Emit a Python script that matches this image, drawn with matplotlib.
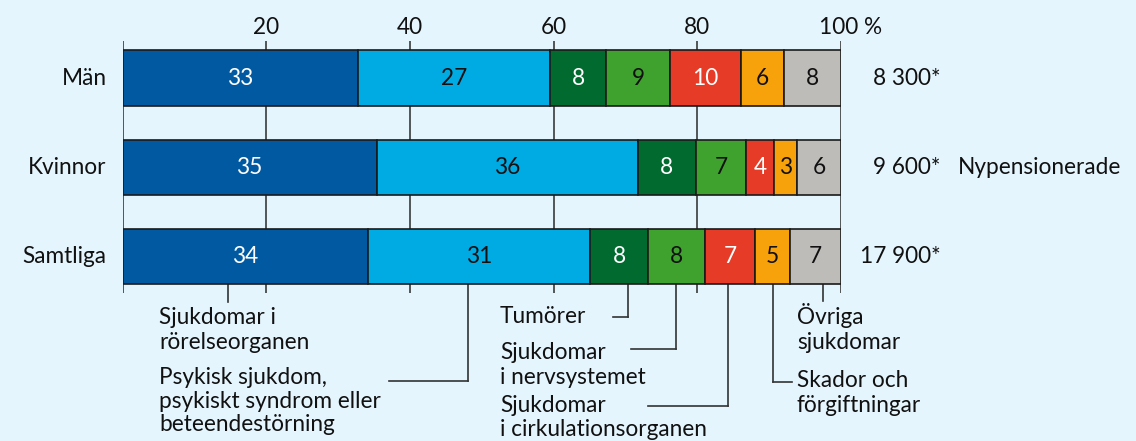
import matplotlib
matplotlib.use("Agg")
import matplotlib.pyplot as plt
import matplotlib.transforms as mtransforms

plt.rcParams['font.family'] = ['Lato', 'DejaVu Sans']

# ---- data ----
groups = ["Män", "Kvinnor", "Samtliga"]
totals = ["8 300*", "9 600*", "17 900*"]
categories = [
    "Sjukdomar i\nrörelseorganen",
    "Psykisk sjukdom,\npsykiskt syndrom eller\nbeteendestörning",
    "Tumörer",
    "Sjukdomar\ni nervsystemet",
    "Sjukdomar\ni cirkulationsorganen",
    "Skador och\nförgiftningar",
    "Övriga\nsjukdomar",
]
man = [32.8, 26.7, 7.8, 8.9, 9.9, 6.0, 7.9]
kvinnor = [35.4, 36.3, 8.1, 7.0, 3.9, 3.2, 6.1]
samtliga = [34.2, 30.9, 8.0, 8.0, 6.9, 4.9, 7.1]
man_labels = [33, 27, 8, 9, 10, 6, 8]
kvinnor_labels = [35, 36, 8, 7, 4, 3, 6]
samtliga_labels = [34, 31, 8, 8, 7, 5, 7]
tick_values = [20, 40, 60, 80, 100]
tick_labels = ["20", "40", "60", "80", "100 %"]
side_note = "Nypensionerade"

colors = ["#0059a1", "#00abe3", "#006a2f", "#40a22e", "#e53b27", "#f8a20b", "#bebcb9"]
text_colors = ["white", "#111111", "white", "#111111", "white", "#111111", "#111111"]
bg = "#e5f5fd"

W, H = 1136, 441
fig = plt.figure(figsize=(W / 100, H / 100), dpi=100, facecolor=bg)
x0px, x1px = 122.5, 841.0
y_top_px, y_bot_px = 41.0, 293.0
ax = fig.add_axes([x0px / W, 1 - y_bot_px / H, (x1px - x0px) / W, (y_bot_px - y_top_px) / H])
ax.set_facecolor(bg)
ax.set_xlim(0, 100)
row_c0, row_sp = 78.0, 89.25
def py(p):
    return (p - row_c0) / row_sp
ax.set_ylim(py(y_bot_px), py(y_top_px))
for s in ax.spines.values():
    s.set_visible(False)

for v in [0] + tick_values:
    ax.axvline(v, color="#3a3a3a", lw=1.2, zorder=1)

vals = [man, kvinnor, samtliga]
labs = [man_labels, kvinnor_labels, samtliga_labels]
bar_h = 55.5 / row_sp
fs = 16.3
for i, (row, lab) in enumerate(zip(vals, labs)):
    left = 0
    for j, (v, l) in enumerate(zip(row, lab)):
        ax.barh(i, v, left=left, height=bar_h, color=colors[j], edgecolor="#1a1a1a",
                linewidth=1.2, zorder=2)
        ax.text(left + v / 2, i, str(l), ha="center", va="center", color=text_colors[j],
                fontsize=fs, zorder=3)
        left += v
    ax.text(-2.2, i, groups[i], ha="right", va="center", fontsize=fs, color="#111111")
    ax.text(113.8, i, totals[i], ha="right", va="center", fontsize=fs, color="#111111",
            clip_on=False)

ax.text(116.3, 1, side_note, ha="left", va="center", fontsize=fs, color="#111111", clip_on=False)

ax.xaxis.tick_top()
ax.set_xticks(tick_values)
ax.set_xticklabels(tick_labels, fontsize=fs, color="#111111")
ax.tick_params(axis="x", length=0, pad=2)
ax.set_yticks([])
lbl = ax.get_xticklabels()[-1]
lbl.set_transform(lbl.get_transform() + mtransforms.ScaledTranslation(0.10, 0, fig.dpi_scale_trans))

def dx(p):
    return (p - x0px) / (x1px - x0px) * 100

lc = "#333333"
bar_bottom = py(284)
leaders = [
    (dx(228), 302, None, 159, 307, 1.22),
    (dx(468), 380.5, 389, 159, 367, 1.15),
    (dx(628), 317, 613, 500, 306, 1.22),
    (dx(676), 349, 631, 500, 342, 1.22),
    (dx(728), 406, 648, 500, 395, 1.15),
    (dx(773), 382, 792, 797, 370, 1.22),
    (dx(823), 301, None, 797, 303, 1.22),
]
for (xd, yend, hx, tx, ty, ls), cat in zip(leaders, categories):
    ax.plot([xd, xd], [bar_bottom, py(yend)], color=lc, lw=1.2, clip_on=False, zorder=1)
    if hx is not None:
        ax.plot([xd, dx(hx)], [py(yend), py(yend)], color=lc, lw=1.2, clip_on=False, zorder=1)
    ax.text(dx(tx), py(ty), cat, ha="left", va="top", fontsize=fs, color="#111111",
            linespacing=ls, clip_on=False)

fig.savefig("out.png", dpi=100, facecolor=bg)
